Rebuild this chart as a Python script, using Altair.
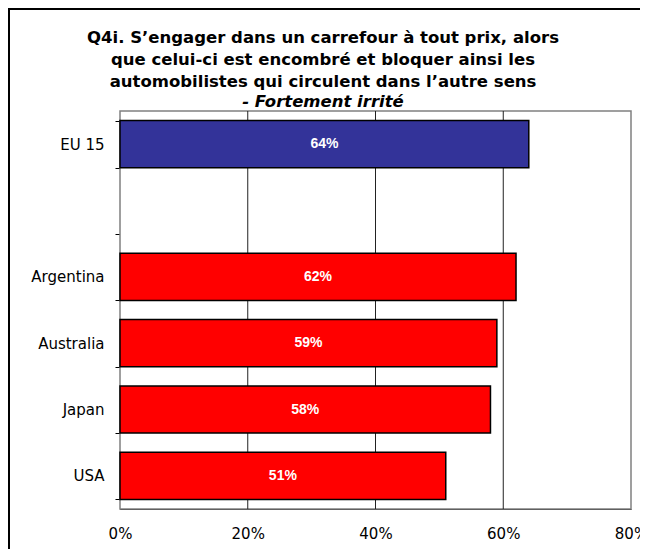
import altair as alt
import pandas as pd

categories = ["EU 15", " ", "Argentina", "Australia", "Japan", "USA"]
bar_countries = ["EU 15", "Argentina", "Australia", "Japan", "USA"]
values = [64, 62, 59, 58, 51]
colors = ["#333399", "#FF0000", "#FF0000", "#FF0000", "#FF0000"]
x_ticks = [0, 20, 40, 60, 80]
grid_values = [20, 40, 60]

df = pd.DataFrame({"country": bar_countries, "value": values, "color": colors})
df["label"] = df["value"].astype(str) + "%"
grid_df = pd.DataFrame({"g": grid_values})
box_df = pd.DataFrame({"x0": [0], "x1": [80]})

LABEL_FONT = "DejaVu Sans"
VAL_FONT = "Liberation Sans"

W, H = 632, 541
X0, X1 = 112, 623
Y0, Y1 = 103, 501
FRAME_R = 632

x_scale = alt.Scale(domain=[0, 80], nice=False, range=[X0, X1])
y_scale = alt.Scale(domain=categories, range=[Y0, Y1], paddingInner=0.29, paddingOuter=0.145)

x_axis = alt.Axis(title=None, values=x_ticks, labelExpr="datum.value + '%'",
                  labelFontSize=15, labelColor="black", labelFont=LABEL_FONT,
                  ticks=False, domainColor="black", labelPadding=17, grid=False,
                  labelFlush=False, offset=Y1 - H)

box = alt.Chart(box_df).mark_rect(fill="white", stroke="#808080", strokeWidth=1.5).encode(
    x=alt.X("x0:Q", scale=x_scale, axis=x_axis),
    x2="x1:Q",
    y=alt.value(Y0), y2=alt.value(Y1),
)

grid = alt.Chart(grid_df).mark_rule(color="#222222", strokeWidth=1).encode(
    x=alt.X("g:Q", scale=x_scale),
    y=alt.value(Y0), y2=alt.value(Y1),
)

bars = alt.Chart(df).mark_bar(stroke="black", strokeWidth=1.5).encode(
    y=alt.Y("country:N", sort=categories, scale=y_scale,
            axis=alt.Axis(title=None, tickBand="extent", tickSize=5, tickColor="black",
                          domainColor="black", labelFontSize=15, labelColor="black",
                          labelFont=LABEL_FONT, labelPadding=11, grid=False, offset=-X0)),
    x=alt.X("value:Q", scale=x_scale),
    color=alt.Color("color:N", scale=None),
)

text = alt.Chart(df).transform_calculate(half="datum.value / 2").mark_text(
    color="white", fontWeight="bold", fontSize=14, font=VAL_FONT
).encode(
    y=alt.Y("country:N", sort=categories, scale=y_scale),
    x=alt.X("half:Q", scale=x_scale),
    text="label:N",
)

frame_top = alt.Chart(box_df).mark_rule(color="black", strokeWidth=2).encode(
    x=alt.value(0), x2=alt.value(FRAME_R), y=alt.value(1)
)
frame_left = alt.Chart(box_df).mark_rule(color="black", strokeWidth=2).encode(
    x=alt.value(1), y=alt.value(0), y2=alt.value(H)
)

chart = alt.layer(box, grid, bars, text, frame_top, frame_left).properties(
    width=W, height=H,
    autosize=alt.AutoSizeParams(type="none"),
    padding=0,
    title=alt.TitleParams(
        text=["Q4i. S\u2019engager dans un carrefour à tout prix, alors",
              "que celui-ci est encombré et bloquer ainsi les",
              "automobilistes qui circulent dans l\u2019autre sens"],
        subtitle="- Fortement irrité",
        anchor="start", frame="group", offset=-109, dx=315,
        align="center",
        font=LABEL_FONT, fontSize=16.5, fontWeight="bold", color="black", lineHeight=22,
        subtitleFont=LABEL_FONT, subtitleFontSize=16.5, subtitleFontWeight="bold",
        subtitleFontStyle="italic", subtitleColor="black", subtitlePadding=3,
    ),
).configure_view(stroke="white", strokeWidth=0, fill="white").configure(background="white")

chart.save("out.html", embed_options={"renderer": "svg", "actions": False})
